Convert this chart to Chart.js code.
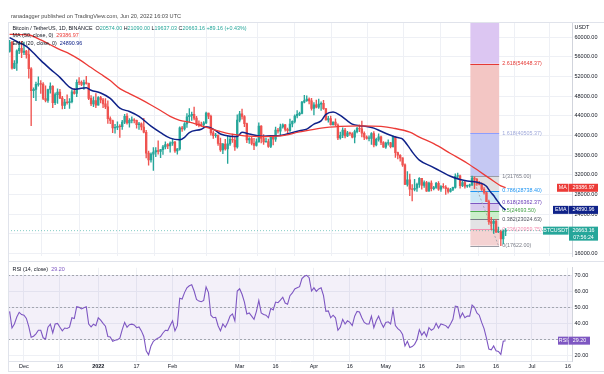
<!DOCTYPE html>
<html>
<head>
<meta charset="utf-8">
<script src="https://cdn.jsdelivr.net/npm/chart.js@4.4.1/dist/chart.umd.min.js"></script>
<style>
  body { margin: 0; background: #fff; }
  #wrap { position: relative; width: 604px; height: 374px; }
  #main { position: absolute; left: 0; top: 0; }
  #rsi { position: absolute; left: 0; top: 262px; }
</style>
</head>
<body>
<div id="wrap">
  <canvas id="main" width="604" height="262"></canvas>
  <canvas id="rsi" width="604" height="112"></canvas>
</div>
<script>
// day 0 = 25 Nov 2021, last candle = 20 Jun 2022
const opens = [57138,58960,53723,54716,57274,57776,
  56950,57184,56485,53601,49152,49397,50441,50588,50471,47535,47141,49389,50053,46702,48336,48864,47633,46133,46835,46681,46914,48887,48588,50838,50819,50429,50809,50640,47588,46472,47121,
  46216,47722,47286,46446,45832,43451,43082,41566,41679,41864,41822,42735,43950,42592,43099,43177,43113,42250,42375,41744,40680,36445,35071,36244,36660,36958,36808,37160,37716,38166,37882,
  38467,38694,36897,37311,41571,41382,42380,43840,44118,44338,43565,42407,42244,42197,42586,44578,43937,40552,40001,40118,38431,37069,38286,37297,38328,39219,39116,37699,
  43160,44421,43892,42454,39148,39404,38420,37988,38730,41941,39422,38729,38807,37777,39671,39280,41114,40917,41757,42201,41262,41002,42364,42882,43991,44313,44511,46827,47123,47434,47067,
  45510,46283,45811,46407,46580,45497,43170,43444,42252,42753,42158,39530,40074,41147,39942,40552,40378,39678,40801,41493,41358,40480,39709,39441,39450,40427,38112,39235,39742,38597,
  37630,38468,38525,37729,39690,36552,36013,35472,34038,30074,31017,29103,29030,29287,30086,31328,29875,30444,28715,30319,29201,29445,30294,29109,29655,29542,29202,28628,29031,29468,31734,
  31801,29805,30452,29700,29864,29919,31373,31125,30205,30109,29091,28424,26574,22485,22136,22583,20400,20468,18970,20574];
const highs = [59398,59188,55280,57445,58865,59176,
  59053,57375,57600,53859,49699,50891,51936,51200,50797,50125,49485,50724,50189,48700,49500,49436,47995,47392,48300,47537,49328,49576,51375,51810,51156,51281,52088,50704,48139,47900,48548,
  47954,47990,47570,47557,47070,43816,43145,42300,42786,42248,43100,44322,44459,43459,43800,43478,43180,42690,42579,43505,41100,36835,36499,37550,37545,38919,37234,38000,38720,38359,38744,
  39265,38855,37387,41772,41913,42656,44500,45492,44799,45821,43920,43000,42760,42876,44775,44578,44164,40959,40444,40119,39494,38420,39249,39843,39683,40300,39855,44225,
  44949,45400,44101,42527,39613,39640,39430,39363,42594,42039,40236,39486,39310,39947,39887,41718,41478,42325,42400,42296,41544,43361,43025,44220,45094,44792,46999,48189,48096,47700,47600,
  46720,47213,47444,46890,47200,45507,43900,43970,42800,43400,42414,40699,41561,41500,40870,40709,40595,41116,41760,42199,42976,40795,39980,39940,40617,40797,39474,40372,39925,38795,
  38675,39167,38651,39980,39845,36658,36146,35500,34243,32659,32162,30032,31083,30343,31460,31328,30780,30700,30545,30777,29656,30487,30670,29833,30223,29856,29398,29250,29530,32222,32399,
  31982,30690,30675,29955,30150,31765,31589,31327,30700,30392,29440,28544,26895,23362,22800,22980,21365,20792,20815,21090];
const lows = [57000,53500,53610,53256,56666,55875,
  56458,55777,51680,42000,47727,47100,50039,48600,47320,46852,46751,48638,45672,46290,46547,47511,45456,45500,46406,45558,46630,48421,47920,50384,50142,49412,50450,47313,46096,45900,45678,
  46208,46654,45696,45500,42500,42430,40610,40501,41200,39650,41268,42450,42311,41725,42578,42581,41540,41250,41138,40553,35440,34008,34601,32917,35701,36234,35507,36155,37268,37351,36632,
  38000,36586,36250,37026,40843,41116,41645,42666,43117,43174,42000,41748,41870,41570,42427,43457,40073,39450,39639,38000,36800,36350,37036,34322,38014,38600,37000,37450,
  42809,43334,41832,38550,38407,38088,37155,37867,38656,38539,38223,38660,37578,37555,38098,38828,40500,40135,41499,40911,40467,40875,41751,42560,43579,44071,44422,46663,46950,46445,45200,
  44200,45620,45530,45118,45353,43121,42727,42107,42125,42000,39200,39254,39588,39551,39766,40019,39547,38536,40571,40820,39751,39177,39285,38929,38200,37702,37881,38881,38175,37578,
  37386,38052,37517,37671,35571,35258,34785,33713,30033,29730,27785,26700,28751,28630,29480,29087,29460,28654,28693,28730,28947,29255,28866,28669,29294,28019,28282,28505,28810,29300,31200,
  29301,29594,29282,29467,29500,29890,29218,29843,29944,28850,28100,26560,21925,20846,20111,20232,20246,17622,17960,19637];
const closes = [58960,53726,54721,57274,57776,56950,
  57184,56480,53601,49152,49397,50441,50589,50471,47545,47140,49389,50054,46702,48343,48864,47632,46131,46834,46681,46914,48889,48588,50838,50821,50429,50809,50640,47588,46464,47120,46216,
  47722,47286,46446,45832,43451,43082,41566,41679,41864,41822,42736,43949,42592,43099,43177,43113,42250,42375,41744,40680,36445,35071,36244,36660,36958,36809,37160,37716,38166,37881,38466,
  38694,36897,37311,41574,41382,42380,43840,44118,44338,43565,42407,42244,42197,42586,44575,43961,40538,40000,40118,38431,37075,38286,37296,38328,39219,39116,37699,43160,
  44421,43892,42454,39137,39397,38420,37988,38730,41941,39422,38729,38807,37777,39671,39280,41114,40917,41757,42201,41262,41002,42364,42882,43991,44313,44511,46827,47122,47434,47067,45510,
  46283,45811,46407,46580,45497,43170,43444,42252,42753,42158,39530,40074,41147,39942,40552,40378,39678,40801,41493,41358,40480,39709,39441,39450,40427,38112,39235,39742,38597,37630,
  38468,38525,37729,39690,36552,36013,35472,34038,30076,31017,29103,29029,29287,30086,31328,29875,30444,28715,30319,29201,29445,30294,29109,29655,29542,29202,28628,29031,29468,31734,31801,
  29805,30452,29700,29864,29919,31373,31125,30205,30109,29091,28424,26574,22487,22136,22583,20401,20468,18970,20574,20663.16];

// MA (50) and EMA (20)
const maDays = [0,8,13,17,21,25,29,34,38,42,46,50,54,59,63,67,71,75,80,92,104,113,121,130,138,146,155,160,167,171,177,184,191,196,200,205,207];
const maValues = [60600,60470,59480,58490,57500,56630,55510,53850,52530,51200,49560,48560,47570,46240,45110,43920,43120,42730,42000,40340,39800,39940,40740,41530,41870,42000,41870,41530,40700,39700,38360,36370,34380,32740,31400,29760,29386.97];
const emaDays = [0,3,7,10,13,17,21,25,27,29,32,34,38,42,46,50,54,59,63,67,71,73,75,80,82,85,88,92,95,97,100,105,109,113,117,121,124,127,130,132,135,138,141,143,146,149,152,155,160,163,164,167,168,171,176,180,184,188,191,196,199,200,201,202,203,204,205,206,207];
const emaValues = [59940,59150,58150,56820,55310,53530,51860,49870,49420,49560,49750,49220,48680,47570,45580,44910,43920,41930,40620,39490,39150,39630,40620,41300,41800,41330,40340,39880,39820,40680,40340,39880,39950,40020,40480,41000,41330,42330,42990,44310,44790,44110,43000,42330,42000,41870,41530,40880,39880,39490,39290,37400,36700,35000,33730,32740,31740,31080,30750,30410,29700,29000,28350,27800,27100,26450,25750,25250,24890.96];

// RSI (14), one value per day
const rsiValues = [47.5,37.1,39.6,44.0,46.9,45.5,45.1,43.1,38.0,31.4,32.0,33.5,35.7,35.7,31.0,30.2,37.6,39.5,34.1,39.6,
  40.0,37.6,35.3,37.1,36.8,37.6,43.5,43.0,50.4,50.0,49.0,49.8,50.4,39.6,37.8,39.5,38.6,43.5,42.0,40.0,
  38.2,31.8,31.5,28.8,29.5,29.8,30.8,36.1,40.6,37.6,39.2,39.5,39.0,37.3,37.8,35.3,31.8,22.9,20.4,25.9,
  28.8,30.0,30.8,31.8,34.0,35.7,35.5,38.6,41.6,35.3,38.6,55.7,55.2,59.2,62.2,63.5,64.1,60.2,54.9,53.9,
  53.5,54.3,62.7,59.2,45.1,43.5,43.8,38.5,35.3,39.6,37.6,40.5,44.5,45.9,41.6,60.2,61.6,58.2,53.3,45.9,
  46.5,44.5,42.5,47.5,54.3,46.5,45.5,45.1,43.5,49.4,48.4,53.3,52.9,54.5,56.3,52.7,52.0,57.3,59.0,61.5,
  62.2,62.9,68.0,69.4,70.0,68.5,60.2,62.2,60.0,61.5,62.2,57.3,47.5,47.8,43.5,45.1,43.5,35.7,37.6,42.5,
  39.6,41.6,40.6,38.6,44.5,47.5,47.1,43.5,40.6,39.6,39.6,44.5,37.3,41.6,44.5,40.6,37.6,40.6,41.0,39.6,
  48.4,38.6,36.7,35.5,33.0,25.9,28.8,24.9,25.5,26.9,29.8,36.1,32.7,34.7,31.8,37.3,35.7,36.7,40.0,37.1,
  39.6,39.2,38.6,37.1,39.6,42.5,50.8,50.4,43.5,46.5,43.5,44.5,44.5,51.4,50.0,46.5,45.1,40.6,36.7,30.8,
  23.9,23.5,25.9,22.9,22.5,20.6,28.8,29.20];

// Fibonacci retracement (6 Jun high to 18 Jun low)
const fibRatios = ['0', '0.236', '0.382', '0.5', '0.618', '0.786', '1', '1.618', '2.618'];
const fibPrices = [17622.00, 20959.75, 23024.63, 24693.50, 26362.37, 28738.40, 31765.00, 40505.37, 54648.37];
const fibStartDay = 192.3;
const fibEndDay = 204.3;
const trendDays = [193, 204];
const trendPrices = [31765, 17622];

// axis ticks
const priceTicks = [16000, 20000, 24000, 28000, 32000, 36000, 40000, 44000, 48000, 52000, 56000, 60000];
const rsiTicks = [20, 30, 40, 50, 60, 70];
const tickDays = [6, 21, 37, 53, 68, 96, 111, 127, 142, 157, 172, 188, 203, 218, 233];
const tickLabels = ['Dec', '16', '2022', '17', 'Feb', 'Mar', '16', 'Apr', '16', 'May', '16', 'Jun', '16', 'Jul', '16'];

const UP = '#26a69a', DOWN = '#ef5350';
const MA_COLOR = '#ec3b37', EMA_COLOR = '#0f2289', RSI_COLOR = '#7e57c2';
const FAM = '"Liberation Sans", Arial, sans-serif';
const F = (s, w) => (w || '') + ' ' + s + 'px ' + FAM;
const GRID = '#eef0f5';
const X_MIN = -0.67, X_MAX = 234.7;

const fibFills = ['#f4d2d2', '#e3e3e5', '#cbeecb', '#d8cbef', '#cbe6f6', '#e0e0e2', '#c5c8f3', '#f3c6c4', '#dcc6f2'];
const fibLines = ['#9a9ca5', '#f48fb1', '#787b86', '#4caf50', '#7e57c2', '#2196f3', '#9a9ca5', '#8c9eff', '#e53935'];
const fibText = ['#787b86', '#f48fb1', '#50535e', '#43a047', '#673ab7', '#2196f3', '#787b86', '#9fa8da', '#e53935'];

const days = opens.map((_, i) => i);
const candleColors = closes.map((c, i) => c >= opens[i] ? UP : DOWN);

function box(ctx, x1, x2, yTop, h, bg, lines, color) {
  ctx.fillStyle = bg;
  ctx.fillRect(x1, yTop, x2 - x1, h);
  ctx.fillStyle = color || '#fff';
  ctx.textAlign = 'center';
  ctx.textBaseline = 'middle';
  lines.forEach((t, i) => ctx.fillText(t, (x1 + x2) / 2, yTop + 4 + i * 6.5));
}

function pieces(ctx, x, y, parts) {
  ctx.textAlign = 'left';
  ctx.textBaseline = 'middle';
  parts.forEach(([t, c]) => {
    ctx.fillStyle = c;
    ctx.fillText(t, x, y);
    x += ctx.measureText(t).width;
  });
}

const fibPlugin = {
  id: 'fib',
  beforeDatasetsDraw(chart) {
    const { ctx, chartArea: a, scales: { x, y } } = chart;
    const x1 = x.getPixelForValue(fibStartDay), x2 = x.getPixelForValue(fibEndDay);
    ctx.save();
    ctx.beginPath();
    ctx.rect(a.left, a.top, a.right - a.left, a.bottom - a.top);
    ctx.clip();
    fibPrices.forEach((p, i) => {
      const yLow = y.getPixelForValue(p);
      const yHigh = i < fibPrices.length - 1 ? y.getPixelForValue(fibPrices[i + 1]) : a.top;
      ctx.fillStyle = fibFills[i];
      ctx.fillRect(x1, yHigh, x2 - x1, yLow - yHigh);
    });
    ctx.lineWidth = 1;
    fibPrices.forEach((p, i) => {
      const yy = Math.round(y.getPixelForValue(p)) + 0.5;
      ctx.strokeStyle = fibLines[i];
      ctx.beginPath();
      ctx.moveTo(x1, yy);
      ctx.lineTo(x2, yy);
      ctx.stroke();
    });
    ctx.font = F(5.4);
    ctx.textAlign = 'left';
    ctx.textBaseline = 'middle';
    fibPrices.forEach((p, i) => {
      ctx.fillStyle = fibText[i];
      ctx.fillText(fibRatios[i] + '(' + p.toFixed(2) + ')', x2 + 3, y.getPixelForValue(p));
    });
    ctx.restore();
  },
  afterDraw(chart) {
    const { ctx, chartArea: a, scales: { y } } = chart;
    ctx.save();
    // frame
    ctx.strokeStyle = '#e0e3eb';
    ctx.lineWidth = 1;
    ctx.beginPath();
    ctx.moveTo(8, 22.5); ctx.lineTo(604, 22.5);
    ctx.moveTo(8.5, 22); ctx.lineTo(8.5, 262);
    ctx.moveTo(8, 261.5); ctx.lineTo(604, 261.5);
    ctx.stroke();

    ctx.font = F(5.6);
    pieces(ctx, 11, 16, [['ranadagger published on TradingView.com, Jun 20, 2022 16:03 UTC', '#4a4a4a']]);

    const last = closes.length - 1;
    const chg = closes[last] - opens[last];
    ctx.font = F(5.4);
    pieces(ctx, 12.5, 28.5, [
      ['Bitcoin / TetherUS, 1D, BINANCE  ', '#131722'],
      ['O', '#131722'], [opens[last].toFixed(2) + ' ', UP],
      ['H', '#131722'], [highs[last].toFixed(2) + ' ', UP],
      ['L', '#131722'], ['19637.03 ', UP],
      ['C', '#131722'], [closes[last].toFixed(2) + ' ', UP],
      ['+' + chg.toFixed(2) + ' (+' + (chg / opens[last] * 100).toFixed(2) + '%)', UP]
    ]);
    pieces(ctx, 12.5, 36, [['MA (50, close, 0)  ', '#131722'], [maValues[maValues.length - 1].toFixed(2), MA_COLOR]]);
    pieces(ctx, 12.5, 43.5, [['EMA (20, close, 0)  ', '#131722'], [emaValues[emaValues.length - 1].toFixed(2), EMA_COLOR]]);

    ctx.font = F(5.4);
    pieces(ctx, a.right + 2.5, 27.5, [['USDT', '#131722']]);

    // price scale tags
    ctx.font = F(5.3);
    const yMa = y.getPixelForValue(maValues[maValues.length - 1]);
    box(ctx, a.right - 15, a.right - 3.5, yMa - 4, 8, MA_COLOR, ['MA']);
    box(ctx, a.right - 3, a.right + 26, yMa - 4, 8, MA_COLOR, [maValues[maValues.length - 1].toFixed(2)]);
    const yEma = y.getPixelForValue(emaValues[emaValues.length - 1]);
    box(ctx, a.right - 19, a.right - 3.5, yEma - 4, 8, EMA_COLOR, ['EMA']);
    box(ctx, a.right - 3, a.right + 26, yEma - 4, 8, EMA_COLOR, [emaValues[emaValues.length - 1].toFixed(2)]);
    const yC = y.getPixelForValue(closes[last]);
    box(ctx, a.right - 29, a.right - 3.5, yC - 4, 8, UP, ['BTCUSDT']);
    box(ctx, a.right - 3, a.right + 26, yC - 4, 14, UP, [closes[last].toFixed(2), '07:56:24']);
    ctx.restore();
  }
};

const rsiPlugin = {
  id: 'rsiBand',
  beforeDatasetsDraw(chart) {
    const { ctx, chartArea: a, scales: { y } } = chart;
    const y70 = y.getPixelForValue(70), y30 = y.getPixelForValue(30);
    ctx.save();
    ctx.fillStyle = 'rgba(126,87,194,0.09)';
    ctx.fillRect(a.left, y70, a.right - a.left, y30 - y70);
    ctx.strokeStyle = '#a3a6af';
    ctx.lineWidth = 1;
    ctx.setLineDash([2, 2]);
    [70, 50, 30].forEach(v => {
      const yy = Math.round(y.getPixelForValue(v)) + 0.5;
      ctx.beginPath();
      ctx.moveTo(a.left, yy);
      ctx.lineTo(a.right, yy);
      ctx.stroke();
    });
    ctx.restore();
  },
  afterDraw(chart) {
    const { ctx, chartArea: a, scales: { y } } = chart;
    const lastRsi = rsiValues[rsiValues.length - 1];
    ctx.save();
    ctx.strokeStyle = '#e0e3eb';
    ctx.lineWidth = 1;
    ctx.beginPath();
    ctx.moveTo(8.5, 0); ctx.lineTo(8.5, 110);
    ctx.moveTo(8, 109.5); ctx.lineTo(604, 109.5);
    ctx.stroke();
    ctx.font = F(5.4);
    pieces(ctx, 12.5, 8, [['RSI (14, close)  ', '#131722'], [lastRsi.toFixed(2), RSI_COLOR]]);
    ctx.font = F(5.3);
    const yr = y.getPixelForValue(lastRsi);
    box(ctx, a.right - 14, a.right - 3.5, yr - 4, 8, RSI_COLOR, ['RSI']);
    box(ctx, a.right - 3, a.right + 18, yr - 4, 8, RSI_COLOR, [lastRsi.toFixed(2)]);
    ctx.restore();
  }
};

const tickFont = { family: FAM, size: 5.5 };

new Chart(document.getElementById('main'), {
  type: 'bar',
  data: {
    datasets: [
      {
        type: 'line', label: 'MA 50', order: 0,
        data: maDays.map((d, i) => ({ x: d, y: maValues[i] })),
        borderColor: MA_COLOR, borderWidth: 1.3, pointRadius: 0, cubicInterpolationMode: 'monotone'
      },
      {
        type: 'line', label: 'EMA 20', order: 0,
        data: emaDays.map((d, i) => ({ x: d, y: emaValues[i] })),
        borderColor: EMA_COLOR, borderWidth: 1.5, pointRadius: 0, cubicInterpolationMode: 'monotone'
      },
      {
        type: 'line', label: 'price line', order: 1,
        data: [{ x: X_MIN, y: closes[closes.length - 1] }, { x: X_MAX, y: closes[closes.length - 1] }],
        borderColor: 'rgba(38,166,154,0.7)', borderWidth: 0.8, borderDash: [1, 2], pointRadius: 0
      },
      {
        label: 'bodies', order: 2, grouped: false,
        data: days.map(d => ({ x: d, y: [opens[d], closes[d]] })),
        backgroundColor: candleColors, barThickness: 1.7, minBarLength: 0.6, borderSkipped: false
      },
      {
        label: 'wicks', order: 3, grouped: false,
        data: days.map(d => ({ x: d, y: [lows[d], highs[d]] })),
        backgroundColor: candleColors, barThickness: 0.7
      },
      {
        type: 'line', label: 'trend', order: 4,
        data: trendDays.map((d, i) => ({ x: d, y: trendPrices[i] })),
        borderColor: '#9a9ca5', borderWidth: 0.8, borderDash: [2, 2], pointRadius: 0
      }
    ]
  },
  options: {
    responsive: false,
    animation: false,
    layout: { padding: { left: 8, top: 22, right: 0, bottom: 0 } },
    plugins: { legend: { display: false }, tooltip: { enabled: false } },
    scales: {
      x: {
        type: 'linear', min: X_MIN, max: X_MAX, offset: false,
        afterBuildTicks: s => { s.ticks = tickDays.map(v => ({ value: v })); },
        ticks: { display: false },
        grid: { color: GRID, drawTicks: false },
        border: { display: false },
        afterFit: s => { s.height = 0; }
      },
      y: {
        position: 'right', min: 15464, max: 63118,
        afterBuildTicks: s => { s.ticks = priceTicks.map(v => ({ value: v })); },
        ticks: { font: tickFont, color: '#131722', padding: 2.5, callback: v => v.toFixed(2) },
        grid: { color: GRID, drawTicks: false },
        border: { color: '#d1d4dc' },
        afterFit: s => { s.width = 32; }
      }
    }
  },
  plugins: [fibPlugin]
});

new Chart(document.getElementById('rsi'), {
  type: 'line',
  data: {
    datasets: [{
      label: 'RSI', data: days.map(d => ({ x: d, y: rsiValues[d] })),
      borderColor: RSI_COLOR, borderWidth: 1.1, pointRadius: 0, tension: 0
    }]
  },
  options: {
    responsive: false,
    animation: false,
    layout: { padding: { left: 8, top: 0, right: 0, bottom: 0 } },
    plugins: { legend: { display: false }, tooltip: { enabled: false } },
    scales: {
      x: {
        type: 'linear', min: X_MIN, max: X_MAX, offset: false,
        afterBuildTicks: s => { s.ticks = tickDays.map(v => ({ value: v })); },
        ticks: {
          autoSkip: false, maxRotation: 0, padding: 2, color: '#131722',
          font: c => ({ family: FAM, size: 5.5, weight: c.tick && c.tick.label === '2022' ? 'bold' : 'normal' }),
          callback: v => tickLabels[tickDays.indexOf(v)]
        },
        grid: { color: GRID, drawTicks: false },
        border: { color: '#e0e3eb' },
        afterFit: s => { s.height = 13; }
      },
      y: {
        position: 'right', min: 16.5, max: 74.7,
        afterBuildTicks: s => { s.ticks = rsiTicks.map(v => ({ value: v })); },
        ticks: { font: tickFont, color: '#131722', padding: 2.5, callback: v => v.toFixed(2) },
        grid: { color: GRID, drawTicks: false },
        border: { color: '#d1d4dc' },
        afterFit: s => { s.width = 32; }
      }
    }
  },
  plugins: [rsiPlugin]
});
</script>
</body>
</html>
